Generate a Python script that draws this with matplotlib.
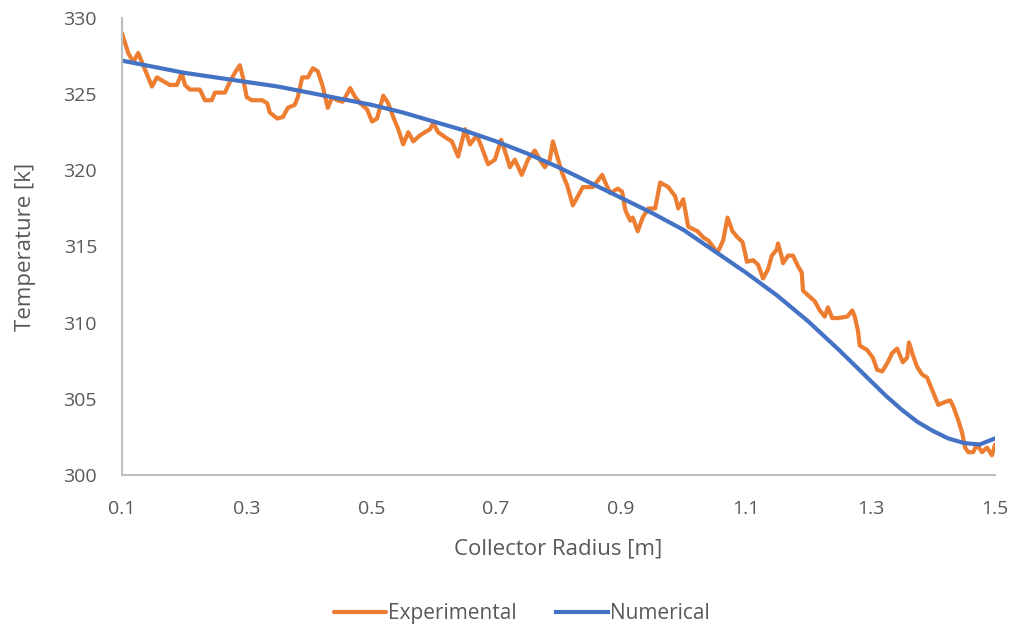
import matplotlib

matplotlib.use("Agg")
import matplotlib.pyplot as plt
from matplotlib import font_manager

# Experimental temperature along the collector radius
exp_radius = [
    0.100, 0.110, 0.118, 0.126, 0.137, 0.148, 0.156, 0.164, 0.177, 0.188,
    0.196, 0.201, 0.209, 0.225, 0.233, 0.244, 0.249, 0.265, 0.273, 0.281,
    0.289, 0.294, 0.300, 0.308, 0.325, 0.333, 0.337, 0.349, 0.358, 0.366,
    0.377, 0.382, 0.389, 0.398, 0.406, 0.414, 0.422, 0.430, 0.437, 0.445,
    0.454, 0.466, 0.474, 0.482, 0.493, 0.501, 0.509, 0.519, 0.527, 0.535,
    0.543, 0.551, 0.559, 0.567, 0.578, 0.594, 0.599, 0.607, 0.621, 0.629,
    0.639, 0.650, 0.658, 0.669, 0.677, 0.687, 0.698, 0.708, 0.717, 0.722,
    0.730, 0.741, 0.751, 0.762, 0.770, 0.778, 0.786, 0.791, 0.798, 0.806,
    0.814, 0.823, 0.831, 0.839, 0.855, 0.870, 0.875, 0.883, 0.895, 0.902,
    0.907, 0.915, 0.919, 0.927, 0.935, 0.944, 0.955, 0.963, 0.976, 0.987,
    0.992, 1.000, 1.008, 1.023, 1.032, 1.040, 1.055, 1.064, 1.071, 1.079,
    1.087, 1.095, 1.099, 1.102, 1.112, 1.120, 1.128, 1.136, 1.142, 1.150,
    1.152, 1.158, 1.160, 1.168, 1.176, 1.184, 1.190, 1.192, 1.203, 1.211,
    1.219, 1.227, 1.232, 1.239, 1.248, 1.263, 1.271, 1.275, 1.280, 1.283,
    1.295, 1.304, 1.311, 1.319, 1.328, 1.335, 1.343, 1.352, 1.359, 1.362,
    1.368, 1.375, 1.383, 1.391, 1.399, 1.409, 1.420, 1.428, 1.433, 1.441,
    1.447, 1.452, 1.457, 1.465, 1.471, 1.479, 1.487, 1.495, 1.500,
]
exp_temp = [
    329.0, 327.7, 327.1, 327.7, 326.6, 325.5, 326.1, 325.9, 325.6, 325.6,
    326.4, 325.6, 325.3, 325.3, 324.6, 324.6, 325.1, 325.1, 325.8, 326.4,
    326.9, 326.1, 324.8, 324.6, 324.6, 324.4, 323.8, 323.4, 323.5, 324.1,
    324.3, 324.8, 326.1, 326.1, 326.7, 326.5, 325.5, 324.1, 324.8, 324.6,
    324.5, 325.4, 324.8, 324.4, 324.0, 323.2, 323.4, 324.9, 324.4, 323.5,
    322.7, 321.7, 322.5, 321.9, 322.3, 322.7, 323.1, 322.5, 322.1, 321.9,
    320.9, 322.7, 321.7, 322.3, 321.5, 320.4, 320.7, 322.0, 320.9, 320.2,
    320.7, 319.7, 320.7, 321.3, 320.7, 320.2, 320.7, 321.9, 320.9, 319.8,
    319.0, 317.7, 318.3, 318.9, 318.9, 319.7, 319.2, 318.5, 318.8, 318.6,
    317.4, 316.7, 316.9, 316.0, 316.9, 317.5, 317.5, 319.2, 318.9, 318.3,
    317.5, 318.1, 316.3, 316.0, 315.6, 315.4, 314.6, 315.4, 316.9, 316.0,
    315.6, 315.3, 314.6, 314.0, 314.1, 313.8, 312.9, 313.5, 314.4, 314.8,
    315.2, 314.3, 313.9, 314.4, 314.4, 313.7, 313.3, 312.1, 311.7, 311.4,
    310.8, 310.4, 311.0, 310.3, 310.3, 310.4, 310.8, 310.4, 309.5, 308.5,
    308.2, 307.7, 306.9, 306.8, 307.4, 308.0, 308.3, 307.4, 307.7, 308.7,
    307.9, 307.1, 306.6, 306.4, 305.6, 304.6, 304.8, 304.9, 304.5, 303.6,
    302.8, 301.8, 301.5, 301.5, 302.0, 301.5, 301.8, 301.3, 302.0,
]

# Numerical model prediction
num_radius = [
    0.10, 0.15, 0.20, 0.25, 0.30, 0.35, 0.40, 0.45, 0.50, 0.55,
    0.60, 0.65, 0.70, 0.75, 0.80, 0.85, 0.90, 0.95, 1.00, 1.05,
    1.10, 1.15, 1.20, 1.25, 1.30, 1.325, 1.35, 1.375, 1.40, 1.425,
    1.45, 1.475, 1.50,
]
num_temp = [
    327.2, 326.8, 326.4, 326.1, 325.8, 325.5, 325.1, 324.7, 324.3, 323.8,
    323.2, 322.6, 321.9, 321.1, 320.2, 319.2, 318.2, 317.2, 316.1, 314.7,
    313.3, 311.8, 310.1, 308.2, 306.2, 305.2, 304.3, 303.5, 302.9, 302.4,
    302.1, 302.0, 302.4,
]

x_ticks = [0.1, 0.3, 0.5, 0.7, 0.9, 1.1, 1.3, 1.5]
y_ticks = [300, 305, 310, 315, 320, 325, 330]

installed = {f.name for f in font_manager.fontManager.ttflist}
family = "Liberation Sans Narrow" if "Liberation Sans Narrow" in installed else "Open Sans"
plt.rcParams["font.family"] = [family, "DejaVu Sans"]

text_color = "#595959"
axis_color = "#bfbfbf"

fig = plt.figure(figsize=(10.19, 6.33), dpi=100)
ax = fig.add_axes([0.1197, 0.2496, 0.8568, 0.7220])

ax.plot(exp_radius, exp_temp, color="#ED7D31", lw=3.0, solid_joinstyle="round",
        solid_capstyle="round", label="Experimental")
ax.plot(num_radius, num_temp, color="#4472C4", lw=3.0, solid_joinstyle="round",
        label="Numerical")

ax.set_xlim(0.1, 1.5)
ax.set_ylim(300, 330)
ax.set_xticks(x_ticks)
ax.set_xticklabels([f"{t:g}" for t in x_ticks])
ax.set_yticks(y_ticks)

for side in ("top", "right"):
    ax.spines[side].set_visible(False)
for side in ("left", "bottom"):
    ax.spines[side].set_color(axis_color)
    ax.spines[side].set_linewidth(1.5)

ax.tick_params(axis="both", length=0, labelsize=14, labelcolor=text_color)
ax.tick_params(axis="x", pad=18)
ax.tick_params(axis="y", pad=18)

ax.set_xlabel("Collector Radius [m]", fontsize=16, color=text_color, labelpad=15)
ax.set_ylabel("Temperature [k]", fontsize=16, color=text_color, labelpad=20)

fig.legend(loc="lower center", bbox_to_anchor=(0.512, -0.016), ncol=2, frameon=False,
           fontsize=15, labelcolor=text_color, handlelength=2.5, handletextpad=0.1,
           columnspacing=1.9)

fig.savefig("out.png", dpi=100)
